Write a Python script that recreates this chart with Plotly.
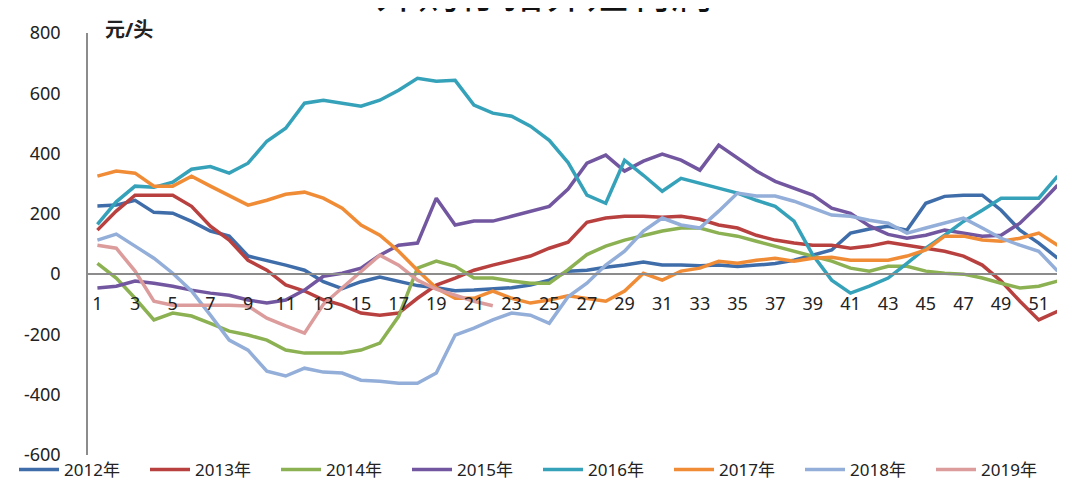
import plotly.graph_objects as go

weeks = list(range(1, 53))
tick_weeks = list(range(1, 53, 2))
tick_text = [str(w) for w in tick_weeks]
y_ticks = [800, 600, 400, 200, 0, -200, -400, -600]
y_tick_text = [str(v) for v in y_ticks]

s2012 = [226, 229, 245, 205, 202, 175, 143, 126, 60, 46, 30, 13, -25, -48, -25, -10, -25, -38, -45, -55,
         -53, -48, -45, -36, -20, 10, 13, 23, 30, 40, 30, 30, 28, 30, 25, 30, 35, 46, 63, 80,
         136, 150, 159, 146, 235, 258, 262, 262, 212, 146, 103, 53]
s2013 = [146, 209, 262, 262, 262, 225, 159, 113, 46, 13, -36, -56, -85, -103, -129, -136, -129, -80, -36, -13,
         13, 30, 46, 60, 86, 106, 172, 186, 192, 192, 189, 192, 182, 163, 153, 129, 113, 103, 96, 96,
         86, 93, 106, 96, 86, 76, 60, 30, -23, -90, -152, -123]
s2014 = [36, -13, -80, -152, -129, -139, -163, -189, -202, -219, -252, -262, -262, -262, -252, -229, -140, 20, 43, 26,
         -13, -13, -23, -30, -30, 15, 65, 93, 113, 129, 143, 153, 153, 136, 126, 109, 93, 76, 60, 43,
         20, 10, 26, 26, 10, 3, 0, -13, -30, -46, -40, -23]
s2015 = [-46, -40, -23, -30, -40, -53, -63, -70, -86, -96, -86, -53, -7, 3, 20, 63, 96, 103, 252, 163,
         176, 176, 192, 209, 225, 282, 368, 395, 342, 375, 398, 378, 345, 428, 385, 342, 308, 285, 262, 219,
         202, 160, 132, 119, 129, 146, 136, 126, 129, 169, 229, 295]
s2016 = [165, 240, 292, 288, 305, 348, 357, 335, 368, 441, 484, 567, 577, 567, 557, 577, 610, 650, 640, 643,
         561, 534, 524, 491, 444, 370, 262, 235, 378, 328, 275, 318, 302, 285, 269, 245, 225, 176, 63, -20,
         -63, -40, -13, 36, 86, 129, 175, 212, 252, 252, 252, 325]
s2017 = [325, 342, 335, 292, 292, 325, 292, 259, 229, 245, 265, 272, 252, 219, 163, 129, 76, 13, -46, -80,
         -80, -56, -80, -96, -86, -72, -80, -90, -56, 3, -20, 10, 20, 43, 36, 46, 53, 43, 53, 56,
         46, 46, 46, 60, 80, 126, 126, 113, 109, 119, 136, 96]
s2018 = [113, 133, 93, 53, 3, -56, -136, -219, -252, -322, -338, -312, -325, -328, -352, -355, -362, -362, -328, -202,
         -179, -152, -129, -136, -163, -75, -30, 30, 76, 143, 186, 163, 153, 209, 269, 259, 259, 242, 219, 196,
         192, 179, 169, 136, 153, 169, 186, 153, 119, 96, 76, 10]
s2019 = [96, 86, 10, -90, -103, -103, -103, -103, -106, -146, -172, -196, -100, -45, 10, 63, 30, -20, -50, -70,
         -90, -105]

series_names = ["2012年", "2013年", "2014年", "2015年", "2016年", "2017年", "2018年", "2019年"]
series_values = [s2012, s2013, s2014, s2015, s2016, s2017, s2018, s2019]
colors = ["#3F6DAA", "#B8413F", "#8CB152", "#7257A0", "#35A2BA", "#F18C36", "#93AED8", "#DC9C9C"]

FONT = "Noto Sans, Noto Sans CJK SC, sans-serif"
L, R, T, B = 80, 6, 25, 36
W, H = 1065, 483
PLOT_H = H - T - B
PLOT_W = W - L - R

fig = go.Figure()
for name, vals, col in zip(series_names, series_values, colors):
    fig.add_trace(go.Scatter(
        x=weeks[:len(vals)], y=vals, name=name, mode="lines",
        line=dict(color=col, width=3.5),
    ))

fig.update_layout(
    width=W, height=H,
    margin=dict(l=L, r=R, t=T, b=B, autoexpand=False),
    paper_bgcolor="white", plot_bgcolor="white",
    font=dict(family=FONT, size=17, color="#222"),
    showlegend=True,
    legend=dict(
        orientation="h", x=(6 - L) / PLOT_W, xanchor="left",
        y=-(462 - (H - B)) / PLOT_H, yanchor="middle",
        entrywidth=76, entrywidthmode="pixels",
        font=dict(size=17, color="#222"),
        traceorder="normal", itemwidth=40, borderwidth=0,
        bgcolor="rgba(0,0,0,0)",
    ),
    annotations=[
        dict(text="外购仔猪养殖利润", xref="paper", yref="paper", x=(536 - L) / PLOT_W, y=1 + (T - 14) / PLOT_H,
             xanchor="center", yanchor="bottom", showarrow=False,
             font=dict(size=42, color="#111", family=FONT)),
        dict(text="<b>元/头</b>", xref="paper", yref="paper", x=(95 - L) / PLOT_W, y=1 + (T - 22) / PLOT_H,
             xanchor="left", yanchor="middle", showarrow=False,
             font=dict(size=20, color="#222", family=FONT)),
    ],
)

fig.update_xaxes(
    range=[0.5, 52.5], tickmode="array", tickvals=tick_weeks, ticktext=tick_text,
    anchor="free", position=600 / 1400, showline=True, linecolor="#8c8c8c", linewidth=1.5,
    showgrid=False, zeroline=False, ticks="", ticklabelstandoff=14,
    tickfont=dict(size=18, color="#222"),
)
fig.update_yaxes(
    range=[-600, 800], tickmode="array", tickvals=y_ticks, ticktext=y_tick_text,
    showline=True, linecolor="#8c8c8c", linewidth=1.5,
    showgrid=False, zeroline=False, ticks="", ticklabelstandoff=22,
    tickfont=dict(size=18, color="#222"),
)

fig.write_html("out.html")
